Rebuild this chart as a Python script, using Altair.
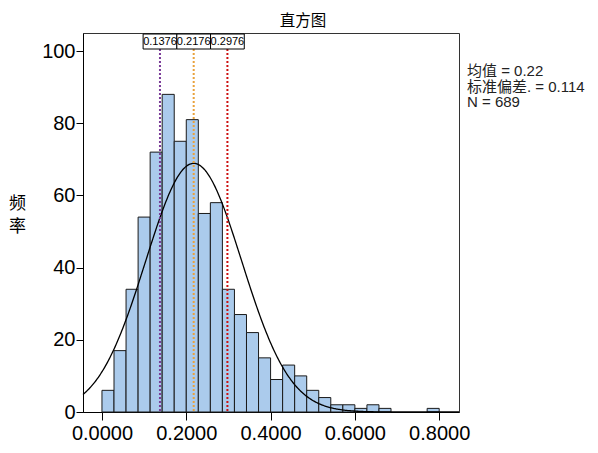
import altair as alt
import pandas as pd

# ---- data ----
bin_width = 0.2 / 7
counts = [6, 17, 34, 54, 72, 88, 75, 81, 55, 58, 34, 27, 22, 15, 9, 13, 10, 6, 4,
          2, 2, 1, 2, 1, 0, 0, 0, 1]
ref_values = [0.1376, 0.2176, 0.2976]
ref_colors = ["#7a3b98", "#e9a23b", "#cc1111"]
ref_labels = ["0.1376", "0.2176", "0.2976"]
mean_val = 0.2176
sd_val = 0.114
n_val = 689
stats_lines = ["均值 = 0.22", "标准偏差. = 0.114", "N = 689"]
x_ticks = [0.0, 0.2, 0.4, 0.6, 0.8]
y_ticks = [0, 20, 40, 60, 80, 100]

x_domain = [-0.045, 0.847]
y_domain = [0, 105]

bars = pd.DataFrame({
    "start": [i * bin_width for i in range(len(counts))],
    "end": [(i + 1) * bin_width for i in range(len(counts))],
    "count": counts,
})
bars = bars[bars["count"] > 0]

refs = pd.DataFrame({"v": ref_values, "c": ref_colors, "lab": ref_labels})

FONT = "Liberation Sans"
CJK = "Noto Sans CJK SC"
MIX = "Liberation Sans, Noto Sans CJK SC"

xscale = alt.Scale(domain=x_domain, nice=False, zero=False)
yscale = alt.Scale(domain=y_domain, nice=False)

xaxis = alt.Axis(values=x_ticks, format=".4f", title=None, grid=False,
                 labelFontSize=20, labelFont=FONT, labelColor="black",
                 tickSize=8, tickColor="black", domainColor="black",
                 labelPadding=3, labelFlush=False)
yaxis = alt.Axis(values=y_ticks, title=["频", "率"], grid=False,
                 labelFontSize=20, labelFont=FONT, labelColor="black",
                 tickSize=7, tickColor="black", domainColor="black",
                 labelPadding=1, titleAngle=0, titleFont=CJK, titleFontSize=17,
                 titleFontWeight="normal", titleColor="black",
                 titleX=-66, titleY=170, titleAlign="center",
                 titleBaseline="middle", titleLineHeight=23)

hist = alt.Chart(bars).mark_rect(
    fill="#abcbec", stroke="#1a1a1a", strokeWidth=1
).encode(
    x=alt.X("start:Q", scale=xscale, axis=xaxis),
    x2="end:Q",
    y=alt.Y("count:Q", scale=yscale, axis=yaxis),
)

curve = alt.Chart(alt.sequence(x_domain[0], x_domain[1] + 0.001, 0.002, as_="x")).transform_calculate(
    y=f"{n_val}*{bin_width}/({sd_val}*sqrt(2*PI))*exp(-0.5*pow((datum.x-{mean_val})/{sd_val},2))"
).mark_line(color="black", strokeWidth=1.3).encode(
    x=alt.X("x:Q", scale=xscale),
    y=alt.Y("y:Q", scale=yscale),
)

rules = alt.Chart(refs).mark_rule(strokeDash=[2, 2], strokeWidth=2).encode(
    x=alt.X("v:Q", scale=xscale),
    y=alt.value(16),
    y2=alt.value(379),
    color=alt.Color("c:N", scale=None),
)

boxes = alt.Chart(refs).transform_calculate(
    a="datum.v - 0.04", b="datum.v + 0.04"
).mark_rect(fill="white", stroke="black", strokeWidth=1).encode(
    x=alt.X("a:Q", scale=xscale),
    x2="b:Q",
    y=alt.value(1),
    y2=alt.value(16),
)

box_text = alt.Chart(refs).mark_text(
    font=FONT, fontSize=11, color="black", baseline="middle", align="center"
).encode(
    x=alt.X("v:Q", scale=xscale),
    y=alt.value(9),
    text="lab:N",
)

stats = alt.Chart(pd.DataFrame({"t": ["\n".join(stats_lines)]})).mark_text(
    font=MIX, fontSize=15, color="#222222", align="left", baseline="top",
    lineBreak="\n", lineHeight=15.5
).encode(
    x=alt.value(384),
    y=alt.value(31),
    text="t:N",
)

chart = alt.layer(hist, curve, rules, boxes, box_text, stats).properties(
    width=376,
    height=379,
    title=alt.TitleParams("直方图", font=CJK, fontSize=15.5, fontWeight="normal",
                          color="black", anchor="middle", frame="group",
                          dx=32, dy=15, offset=7, baseline="alphabetic"),
    autosize=alt.AutoSizeParams(type="none"),
    padding={"left": 75, "top": 25, "right": 131, "bottom": 33},
).configure_view(stroke="#333333", strokeWidth=1)

chart.save("out.html", embed_options={"renderer": "svg", "actions": False})
